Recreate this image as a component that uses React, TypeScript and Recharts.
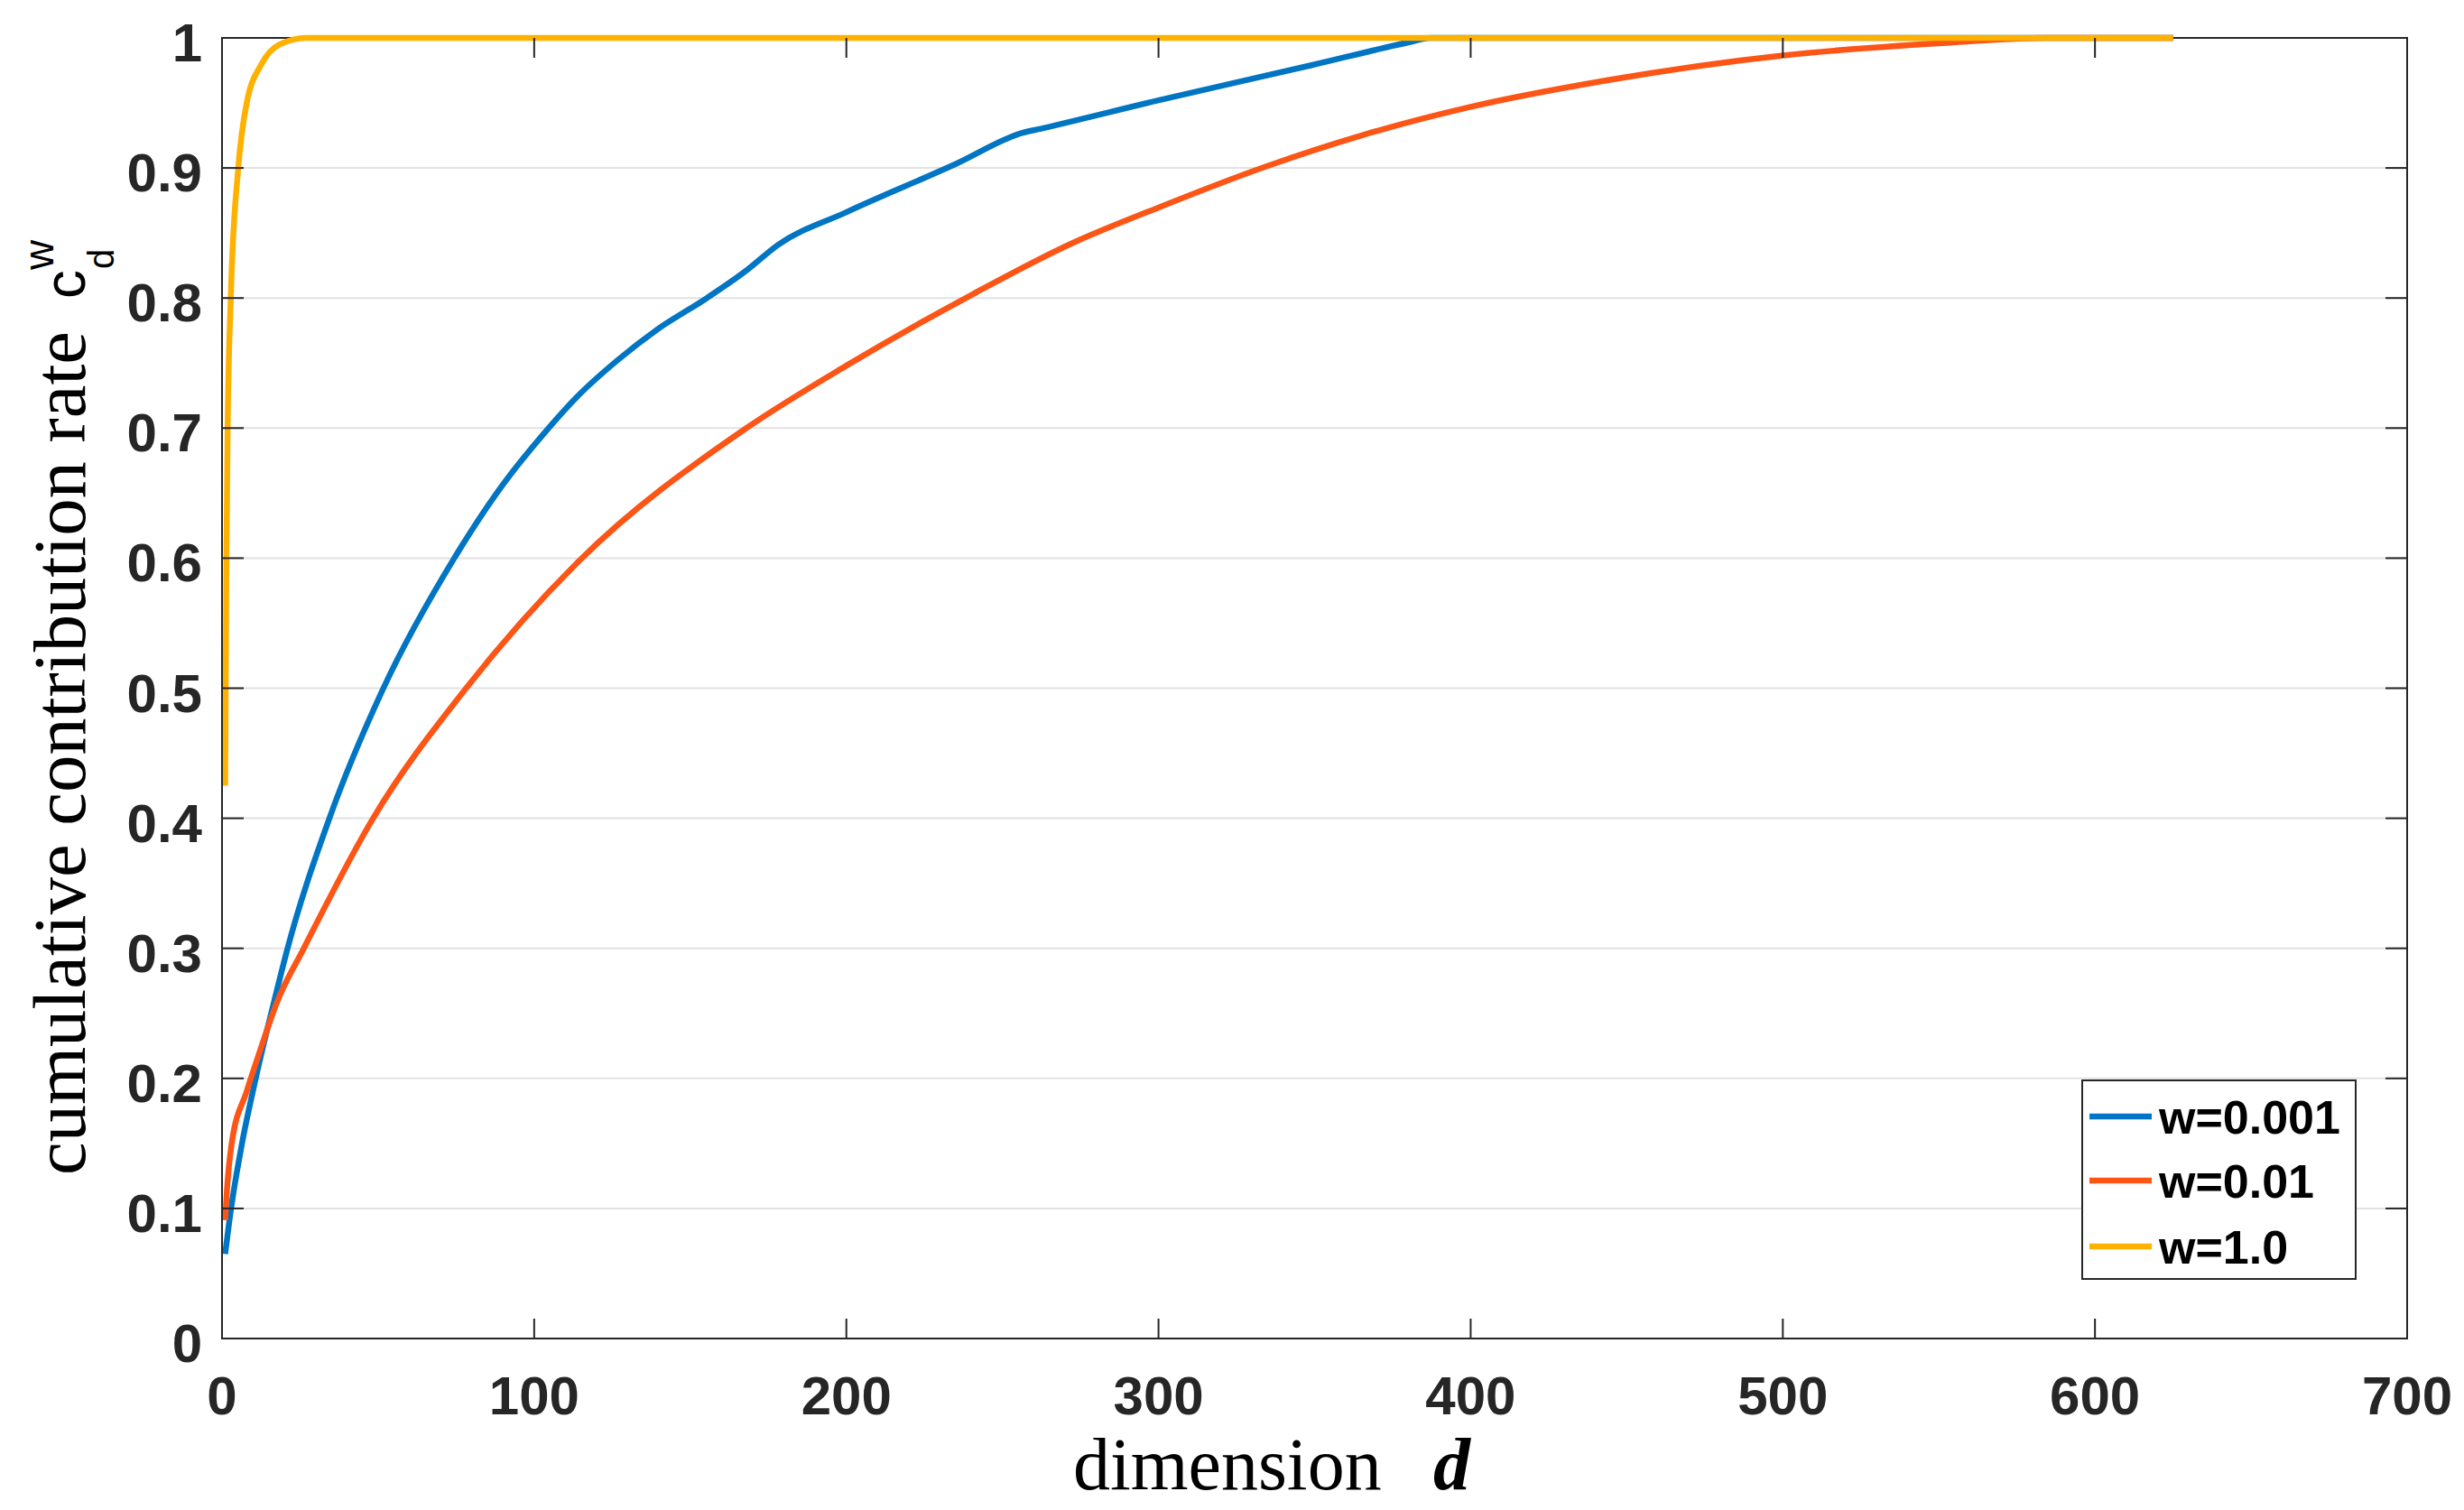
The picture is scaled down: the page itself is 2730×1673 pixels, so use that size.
import React from 'react';
import { LineChart, Line, XAxis, YAxis, CartesianGrid, Legend, ReferenceArea, Label } from 'recharts';

// ---- data ----
const blueD = [1, 2.9, 6.4, 10.8, 17.5, 21, 34.4, 51.7, 74.4, 88, 104.6, 113.7, 126.6, 139.5, 155, 167.9, 178.2, 200, 235, 256.5, 262, 300, 349, 380, 387, 625];
const blueV = [0.065, 0.1, 0.15, 0.2, 0.267, 0.3, 0.4, 0.5, 0.6, 0.65, 0.7, 0.724, 0.752, 0.776, 0.7995, 0.821, 0.841, 0.866, 0.903, 0.927, 0.93, 0.952, 0.979, 0.9965, 1.0, 1.0];

const orangeD = [1, 1.6, 3.1, 7.9, 12.7, 17.5, 26.2, 48.4, 78.2, 114, 168, 200, 241, 272, 300, 334, 365, 400, 442, 500, 551, 585, 625];
const orangeV = [0.091, 0.115, 0.15, 0.19, 0.225, 0.258, 0.3, 0.4, 0.5, 0.597, 0.7, 0.748, 0.8036, 0.8418, 0.8696, 0.9008, 0.925, 0.947, 0.9667, 0.9865, 0.996, 1.0, 1.0];

const yellowD = [1, 1.4, 1.8, 2.8, 5.2, 7.9, 12.7, 18.5, 27, 625];
const yellowV = [0.425, 0.6, 0.7, 0.8, 0.9, 0.95, 0.98, 0.995, 1.0, 1.0];

const seriesNames = ['w=0.001', 'w=0.01', 'w=1.0'];
const xTicks = [0, 100, 200, 300, 400, 500, 600, 700];
const yTicks = [0, 0.1, 0.2, 0.3, 0.4, 0.5, 0.6, 0.7, 0.8, 0.9, 1];

const blueData = blueD.map((d, i) => ({ d, v: blueV[i] }));
const orangeData = orangeD.map((d, i) => ({ d, v: orangeV[i] }));
const yellowData = yellowD.map((d, i) => ({ d, v: yellowV[i] }));

// ---- style / layout ----
const W = 2730;
const H = 1673;
const PLOT_W = 2421;
const PLOT_H = 1441;
const AXIS = '#262626';
const TICK_FONT = '"Liberation Sans", Arial, Helvetica, sans-serif';
const SERIF = '"Liberation Serif", "Times New Roman", serif';
const COLORS = ['#0075C4', '#FC5515', '#FFB100'];
const LINE_W = 6.5;

const XTick = (props: any) => {
  const { x, y, payload } = props;
  return (
    <g>
      <line x1={x} y1={y} x2={x} y2={y - 22} stroke={AXIS} strokeWidth={2} />
      <line x1={x} y1={y - PLOT_H} x2={x} y2={y - PLOT_H + 22} stroke={AXIS} strokeWidth={2} />
      <text x={x} y={y + 84} textAnchor="middle" fontFamily={TICK_FONT} fontWeight="bold" fontSize={60} fill={AXIS}>
        {payload.value}
      </text>
    </g>
  );
};

const YTick = (props: any) => {
  const { x, y, payload } = props;
  return (
    <g>
      <line x1={x} y1={y} x2={x + 24} y2={y} stroke={AXIS} strokeWidth={2} />
      <line x1={x + PLOT_W - 24} y1={y} x2={x + PLOT_W} y2={y} stroke={AXIS} strokeWidth={2} />
      <text x={x - 22} y={y + 26} textAnchor="end" fontFamily={TICK_FONT} fontWeight="bold" fontSize={60} fill={AXIS}>
        {payload.value}
      </text>
    </g>
  );
};

const renderYLabel = () => (
  <g>
    <text transform="rotate(-90)" x={-1302} y={94} fontFamily={SERIF} fontSize={82} fill="#000" textLength={935} lengthAdjust="spacingAndGlyphs">
      cumulative contribution rate
    </text>
    <text transform="rotate(-90)" x={-331} y={94} fontFamily={TICK_FONT} fontSize={64} fill="#000">c</text>
    <text transform="rotate(-90)" x={-299} y={59} fontFamily={TICK_FONT} fontSize={46} fill="#000">w</text>
    <text transform="rotate(-90)" x={-298} y={126} fontFamily={TICK_FONT} fontSize={40} fill="#000">d</text>
  </g>
);

const renderXLabel = () => (
  <g>
    <text x={1189} y={1650} fontFamily={SERIF} fontSize={82} fill="#000">dimension</text>
    <text x={1588} y={1650} fontFamily={SERIF} fontSize={82} fontStyle="italic" fontWeight="bold" fill="#000">d</text>
  </g>
);

const renderLegend = (props: any) => {
  const { payload } = props;
  const rows = [41, 112, 185];
  return (
    <svg width={305} height={222} style={{ display: 'block' }}>
      <rect x={1} y={1} width={303} height={220} fill="#fff" stroke={AXIS} strokeWidth={2} />
      {(payload || []).map((entry: any, i: number) => (
        <g key={entry.value}>
          <line x1={9} y1={rows[i]} x2={78} y2={rows[i]} stroke={entry.color} strokeWidth={LINE_W} />
          <text x={86} y={rows[i] + 19} fontFamily={TICK_FONT} fontWeight="bold" fontSize={52} fill="#000">
            {entry.value}
          </text>
        </g>
      ))}
    </svg>
  );
};

export default function App() {
  return (
    <div style={{ position: 'absolute', left: 0, top: 0, width: W, height: H, background: '#fff' }}>
      <LineChart width={W} height={H} margin={{ top: 42, right: 63, left: 0, bottom: 0 }}>
        <CartesianGrid horizontal={true} vertical={false} stroke="#E2E2E2" strokeWidth={2} />
        <XAxis
          type="number"
          dataKey="d"
          domain={[0, 700]}
          ticks={xTicks}
          interval={0}
          height={190}
          tickSize={0}
          tickMargin={0}
          tickLine={false}
          axisLine={{ stroke: AXIS, strokeWidth: 2 }}
          tick={<XTick />}
          allowDuplicatedCategory={false}
        >
          <Label content={renderXLabel} />
        </XAxis>
        <YAxis
          type="number"
          domain={[0, 1]}
          ticks={yTicks}
          interval={0}
          width={246}
          tickSize={0}
          tickMargin={0}
          tickLine={false}
          axisLine={{ stroke: AXIS, strokeWidth: 2 }}
          tick={<YTick />}
        >
          <Label content={renderYLabel} />
        </YAxis>
        <ReferenceArea x1={0} x2={700} y1={0} y2={1} fill="none" fillOpacity={0} stroke={AXIS} strokeWidth={2} />
        <Line data={blueData} dataKey="v" name={seriesNames[0]} type="monotone" stroke={COLORS[0]} strokeWidth={LINE_W} dot={false} activeDot={false} isAnimationActive={false} />
        <Line data={orangeData} dataKey="v" name={seriesNames[1]} type="monotone" stroke={COLORS[1]} strokeWidth={LINE_W} dot={false} activeDot={false} isAnimationActive={false} />
        <Line data={yellowData} dataKey="v" name={seriesNames[2]} type="monotone" stroke={COLORS[2]} strokeWidth={LINE_W} dot={false} activeDot={false} isAnimationActive={false} />
        <Legend
          layout="vertical"
          align="center"
          verticalAlign="middle"
          content={renderLegend}
          wrapperStyle={{ left: 2306, top: 1196, width: 305, height: 222 }}
        />
      </LineChart>
    </div>
  );
}
